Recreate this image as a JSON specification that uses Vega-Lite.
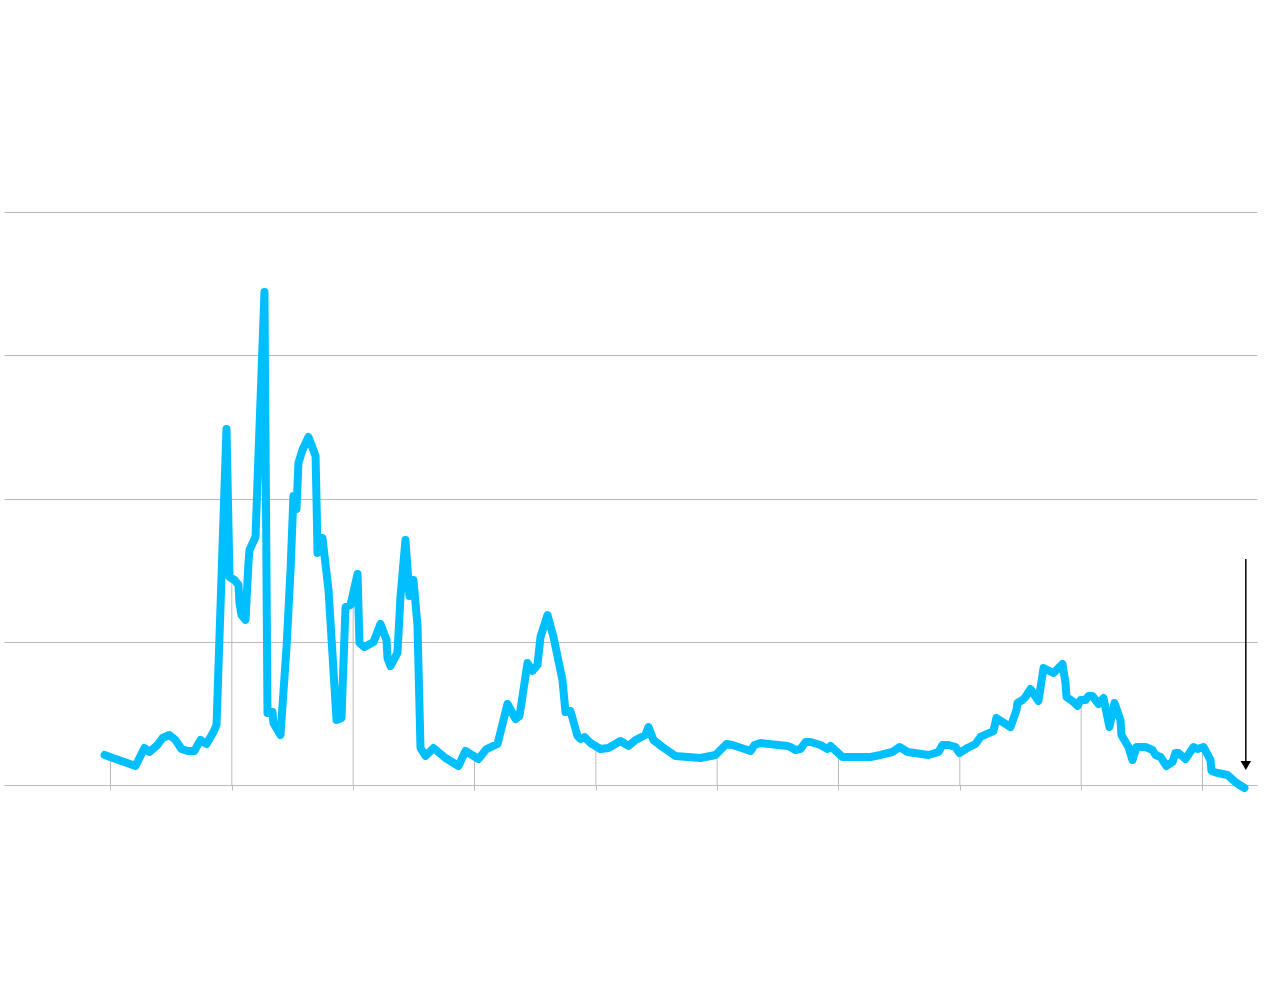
{
  "$schema": "https://vega.github.io/schema/vega-lite/v6.json",
  "autosize": "none",
  "width": 1253,
  "height": 573,
  "padding": {"left": 4, "top": 212, "right": 23, "bottom": 203},
  "background": "white",
  "config": {"view": {"stroke": null}},
  "datasets": {
    "series": [
      {"t": 2013.951, "v": 5.24}, {"t": 2014.206, "v": 3.32}, {"t": 2014.280, "v": 6.46}, {"t": 2014.321, "v": 5.76},
      {"t": 2014.387, "v": 6.98}, {"t": 2014.429, "v": 8.20}, {"t": 2014.486, "v": 8.73}, {"t": 2014.536, "v": 7.85},
      {"t": 2014.585, "v": 6.28}, {"t": 2014.635, "v": 5.93}, {"t": 2014.692, "v": 5.93}, {"t": 2014.709, "v": 6.63},
      {"t": 2014.742, "v": 7.85}, {"t": 2014.791, "v": 7.16}, {"t": 2014.849, "v": 9.25}, {"t": 2014.874, "v": 10.47},
      {"t": 2014.956, "v": 62.13}, {"t": 2014.981, "v": 36.30}, {"t": 2015.022, "v": 35.78}, {"t": 2015.055, "v": 34.90},
      {"t": 2015.063, "v": 31.76}, {"t": 2015.080, "v": 29.67}, {"t": 2015.113, "v": 28.80}, {"t": 2015.137, "v": 38.74},
      {"t": 2015.146, "v": 41.01}, {"t": 2015.195, "v": 43.28}, {"t": 2015.269, "v": 86.04}, {"t": 2015.294, "v": 12.57},
      {"t": 2015.335, "v": 12.74}, {"t": 2015.343, "v": 10.82}, {"t": 2015.401, "v": 8.73}, {"t": 2015.451, "v": 24.08},
      {"t": 2015.484, "v": 37.52}, {"t": 2015.508, "v": 50.44}, {"t": 2015.533, "v": 48.17}, {"t": 2015.549, "v": 56.20},
      {"t": 2015.582, "v": 58.46}, {"t": 2015.632, "v": 60.73}, {"t": 2015.690, "v": 57.42}, {"t": 2015.698, "v": 49.74},
      {"t": 2015.706, "v": 40.49}, {"t": 2015.747, "v": 43.11}, {"t": 2015.764, "v": 39.96}, {"t": 2015.797, "v": 34.03},
      {"t": 2015.863, "v": 11.34}, {"t": 2015.904, "v": 11.69}, {"t": 2015.937, "v": 31.06}, {"t": 2015.978, "v": 31.41},
      {"t": 2016.036, "v": 36.82}, {"t": 2016.052, "v": 24.78}, {"t": 2016.093, "v": 24.08}, {"t": 2016.168, "v": 24.96},
      {"t": 2016.225, "v": 28.10}, {"t": 2016.275, "v": 25.31}, {"t": 2016.283, "v": 22.16}, {"t": 2016.308, "v": 20.77},
      {"t": 2016.365, "v": 23.04}, {"t": 2016.390, "v": 32.81}, {"t": 2016.431, "v": 42.76}, {"t": 2016.464, "v": 32.98},
      {"t": 2016.497, "v": 35.78}, {"t": 2016.530, "v": 27.92}, {"t": 2016.555, "v": 6.46}, {"t": 2016.596, "v": 5.06},
      {"t": 2016.662, "v": 6.46}, {"t": 2016.761, "v": 4.71}, {"t": 2016.868, "v": 3.32}, {"t": 2016.926, "v": 5.93},
      {"t": 2017.033, "v": 4.54}, {"t": 2017.099, "v": 6.28}, {"t": 2017.190, "v": 7.16}, {"t": 2017.272, "v": 14.14},
      {"t": 2017.338, "v": 11.52}, {"t": 2017.371, "v": 12.04}, {"t": 2017.437, "v": 21.29}, {"t": 2017.478, "v": 19.90},
      {"t": 2017.519, "v": 20.94}, {"t": 2017.544, "v": 25.83}, {"t": 2017.602, "v": 29.67}, {"t": 2017.651, "v": 25.83},
      {"t": 2017.725, "v": 18.32}, {"t": 2017.750, "v": 12.74}, {"t": 2017.791, "v": 12.91}, {"t": 2017.849, "v": 8.55},
      {"t": 2017.874, "v": 8.03}, {"t": 2017.907, "v": 8.38}, {"t": 2017.956, "v": 7.33}, {"t": 2018.038, "v": 6.28},
      {"t": 2018.104, "v": 6.46}, {"t": 2018.203, "v": 7.68}, {"t": 2018.269, "v": 6.81}, {"t": 2018.327, "v": 7.85},
      {"t": 2018.409, "v": 8.73}, {"t": 2018.434, "v": 10.12}, {"t": 2018.475, "v": 7.85}, {"t": 2018.549, "v": 6.63},
      {"t": 2018.656, "v": 5.06}, {"t": 2018.862, "v": 4.71}, {"t": 2018.986, "v": 5.24}, {"t": 2019.077, "v": 7.16},
      {"t": 2019.126, "v": 6.98}, {"t": 2019.275, "v": 5.93}, {"t": 2019.308, "v": 6.98}, {"t": 2019.357, "v": 7.33},
      {"t": 2019.580, "v": 6.81}, {"t": 2019.604, "v": 6.63}, {"t": 2019.645, "v": 6.11}, {"t": 2019.687, "v": 6.28},
      {"t": 2019.728, "v": 7.50}, {"t": 2019.769, "v": 7.50}, {"t": 2019.852, "v": 6.98}, {"t": 2019.909, "v": 6.28},
      {"t": 2019.934, "v": 6.81}, {"t": 2020.033, "v": 4.89}, {"t": 2020.264, "v": 4.89}, {"t": 2020.346, "v": 5.24},
      {"t": 2020.445, "v": 5.76}, {"t": 2020.503, "v": 6.63}, {"t": 2020.569, "v": 5.76}, {"t": 2020.742, "v": 5.24},
      {"t": 2020.824, "v": 5.76}, {"t": 2020.857, "v": 6.98}, {"t": 2020.907, "v": 6.98}, {"t": 2020.964, "v": 6.63},
      {"t": 2020.997, "v": 5.58}, {"t": 2021.063, "v": 6.46}, {"t": 2021.129, "v": 7.16}, {"t": 2021.170, "v": 8.38},
      {"t": 2021.277, "v": 9.42}, {"t": 2021.302, "v": 11.69}, {"t": 2021.418, "v": 10.12}, {"t": 2021.467, "v": 13.09},
      {"t": 2021.475, "v": 14.31}, {"t": 2021.516, "v": 14.83}, {"t": 2021.541, "v": 15.36}, {"t": 2021.582, "v": 16.75},
      {"t": 2021.648, "v": 14.66}, {"t": 2021.690, "v": 20.42}, {"t": 2021.772, "v": 19.55}, {"t": 2021.846, "v": 21.12},
      {"t": 2021.871, "v": 17.80}, {"t": 2021.879, "v": 15.36}, {"t": 2021.937, "v": 14.49}, {"t": 2021.970, "v": 13.79},
      {"t": 2021.995, "v": 14.83}, {"t": 2022.036, "v": 14.83}, {"t": 2022.061, "v": 15.53}, {"t": 2022.093, "v": 15.53},
      {"t": 2022.143, "v": 14.14}, {"t": 2022.184, "v": 15.18}, {"t": 2022.233, "v": 10.12}, {"t": 2022.275, "v": 14.31},
      {"t": 2022.324, "v": 11.34}, {"t": 2022.332, "v": 8.73}, {"t": 2022.390, "v": 6.63}, {"t": 2022.423, "v": 4.36},
      {"t": 2022.456, "v": 6.63}, {"t": 2022.530, "v": 6.63}, {"t": 2022.588, "v": 6.11}, {"t": 2022.613, "v": 5.24},
      {"t": 2022.654, "v": 4.89}, {"t": 2022.703, "v": 3.32}, {"t": 2022.753, "v": 4.01}, {"t": 2022.777, "v": 5.58},
      {"t": 2022.802, "v": 5.58}, {"t": 2022.860, "v": 4.54}, {"t": 2022.926, "v": 6.63}, {"t": 2022.959, "v": 6.28},
      {"t": 2023.008, "v": 6.63}, {"t": 2023.066, "v": 4.36}, {"t": 2023.074, "v": 2.44}, {"t": 2023.124, "v": 2.09},
      {"t": 2023.206, "v": 1.75}, {"t": 2023.280, "v": 0.35}, {"t": 2023.346, "v": -0.52}
    ],
    "years": [
      {"t": 2014, "v": 4.89, "base": 0}, {"t": 2015, "v": 35.9, "base": 0}, {"t": 2016, "v": 33.6, "base": 0}, {"t": 2017, "v": 4.97, "base": 0},
      {"t": 2018, "v": 6.7, "base": 0}, {"t": 2019, "v": 5.58, "base": 0}, {"t": 2020, "v": 5.58, "base": 0}, {"t": 2021, "v": 5.58, "base": 0},
      {"t": 2022, "v": 14.83, "base": 0}, {"t": 2023, "v": 6.63, "base": 0}
    ],
    "arrow": [
      {"t": 2023.357, "top": 39.44, "bottom": 3.4}
    ]
  },
  "layer": [
    {
      "data": {"name": "years"},
      "mark": {"type": "rule", "color": "#bbbbbb", "strokeWidth": 1},
      "encoding": {
        "x": {
          "field": "t", "type": "quantitative",
          "scale": {"domain": [2013.1223, 2023.4492], "nice": false, "zero": false},
          "axis": {"values": [2014, 2015, 2016, 2017, 2018, 2019, 2020, 2021, 2022, 2023], "labels": false, "domain": false, "grid": false, "ticks": true, "tickSize": 5, "tickColor": "#bbbbbb", "tickWidth": 1, "title": null}
        },
        "y": {
          "field": "v", "type": "quantitative",
          "scale": {"domain": [0, 100], "nice": false},
          "axis": {"values": [0, 25, 50, 75, 100], "labels": false, "ticks": false, "domain": false, "grid": true, "gridColor": "#bbbbbb", "gridWidth": 1, "title": null}
        },
        "y2": {"field": "base"}
      }
    },
    {
      "data": {"name": "series"},
      "mark": {"type": "line", "color": "#00bfff", "strokeWidth": 8, "strokeCap": "round", "strokeJoin": "round", "interpolate": "linear"},
      "encoding": {
        "x": {"field": "t", "type": "quantitative"},
        "y": {"field": "v", "type": "quantitative"}
      }
    },
    {
      "data": {"name": "arrow"},
      "mark": {"type": "rule", "color": "black", "strokeWidth": 1.5},
      "encoding": {
        "x": {"field": "t", "type": "quantitative"},
        "y": {"field": "top", "type": "quantitative"},
        "y2": {"field": "bottom"}
      }
    },
    {
      "data": {"name": "arrow"},
      "mark": {"type": "point", "shape": "triangle-down", "filled": true, "color": "black", "size": 110, "opacity": 1},
      "encoding": {
        "x": {"field": "t", "type": "quantitative"},
        "y": {"field": "bottom", "type": "quantitative"}
      }
    }
  ]
}
